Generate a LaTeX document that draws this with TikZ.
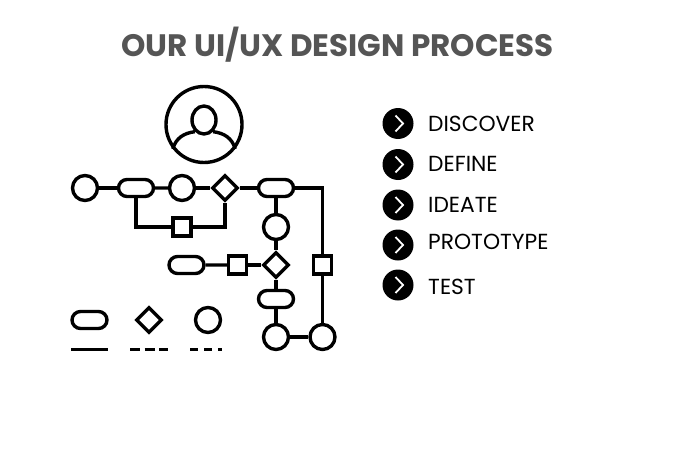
\documentclass[tikz,border=0pt]{standalone}
\usepackage{fontspec}
\setmainfont{Poppins}
\usetikzlibrary{shapes.geometric,shapes.misc}
\definecolor{titlegray}{HTML}{555555}
\tikzset{
    flow/.style={line width=3.4pt},
    stepcircle/.style={flow, draw, circle, minimum size=25pt, inner sep=0pt},
    steppill/.style={flow, draw, rounded rectangle, minimum width=35pt, minimum height=17pt, inner sep=0pt},
    stepsquare/.style={flow, draw, rectangle, minimum size=18pt, inner sep=0pt},
    stepdiamond/.style={flow, draw, diamond, minimum size=26pt, inner sep=0pt},
    bullet/.style={circle, fill=black, minimum size=31pt, inner sep=0pt},
    item/.style={anchor=base west, inner sep=0pt, font=\fontsize{21.8}{21.8}\selectfont}
}
\begin{document}
\begin{tikzpicture}[x=1pt,y=-1pt]

    \useasboundingbox (0,0) rectangle (674,452);

    \node[anchor=base, inner sep=0pt, text=titlegray, font=\fontsize{31}{31}\selectfont\bfseries] (title) at (337.5,56.5) {OUR UI/UX DESIGN PROCESS};

    % user
    \node[stepcircle, minimum size=76pt] (avatar) at (204,124.5) {};
    \node[flow, draw, ellipse, minimum width=24pt, minimum height=28pt, inner sep=0pt] (head) at (204,120) {};
    \draw[flow] (avatar.218) .. controls (176,138) and (184,133) .. (head.232);
    \draw[flow] (avatar.322) .. controls (232,138) and (224,133) .. (head.308);

    % upper row
    \node[stepcircle] (start) at (85,188) {};
    \node[steppill] (pillA) at (136,188) {};
    \node[stepcircle] (circleA) at (182,188) {};
    \node[stepdiamond] (diamondA) at (225,188) {};
    \node[steppill] (pillB) at (276,188) {};
    \node[stepsquare] (squareA) at (182,227) {};
    \node[stepcircle] (circleB) at (276,227) {};

    \draw[flow] (start) -- (pillA);
    \draw[flow] (pillA) -- (circleA);
    \draw[flow] (circleA) -- (diamondA);
    \draw[flow] (diamondA) -- (pillB);
    \draw[flow] (pillA.south) |- (squareA);
    \draw[flow] (squareA) -| (diamondA.south);

    % lower part
    \node[steppill] (pillC) at (186.5,265) {};
    \node[stepsquare] (squareB) at (237.5,265) {};
    \node[stepdiamond] (diamondB) at (276,265) {};
    \node[stepsquare] (squareC) at (322.5,265) {};
    \node[steppill] (pillD) at (276,299) {};
    \node[stepcircle] (circleC) at (276,337) {};
    \node[stepcircle] (circleD) at (322.5,337) {};

    \draw[flow] (pillB) -- (circleB);
    \draw[flow] (circleB) -- (diamondB);
    \draw[flow] (pillC) -- (squareB);
    \draw[flow] (squareB) -- (diamondB);
    \draw[flow] (diamondB) -- (pillD);
    \draw[flow] (pillD) -- (circleC);
    \draw[flow] (circleC) -- (circleD);
    \draw[flow] (pillB) -| (squareC);
    \draw[flow] (squareC) -- (circleD);

    % legend
    \node[steppill] (keyPill) at (89.5,320) {};
    \node[stepdiamond] (keyDiamond) at (149,320) {};
    \node[stepcircle] (keyCircle) at (208,320) {};

    \draw[flow] (71,349.5) -- (108,349.5);
    \draw[flow, dash pattern=on 10pt off 4.5pt] (130,349.5) -- (168,349.5);
    \draw[flow, dash pattern=on 8pt off 6pt] (190,349.5) -- (222,349.5);

    % list
    \foreach \name/\y/\base/\label in {discover/123.5/131/DISCOVER,define/164.5/171/DEFINE,ideate/205/212/IDEATE,prototype/245/249/PROTOTYPE,test/285/294/TEST}{
        \node[bullet] (bullet\name) at (398,\y) {};
        \draw[white, line width=1.8pt] ([xshift=-2.5pt,yshift=-8pt]bullet\name.center) -- ([xshift=5pt]bullet\name.center) -- ([xshift=-2.5pt,yshift=8pt]bullet\name.center);
        \node[item] (label\name) at (428,\base) {\label};
    }

\end{tikzpicture}
\end{document}
